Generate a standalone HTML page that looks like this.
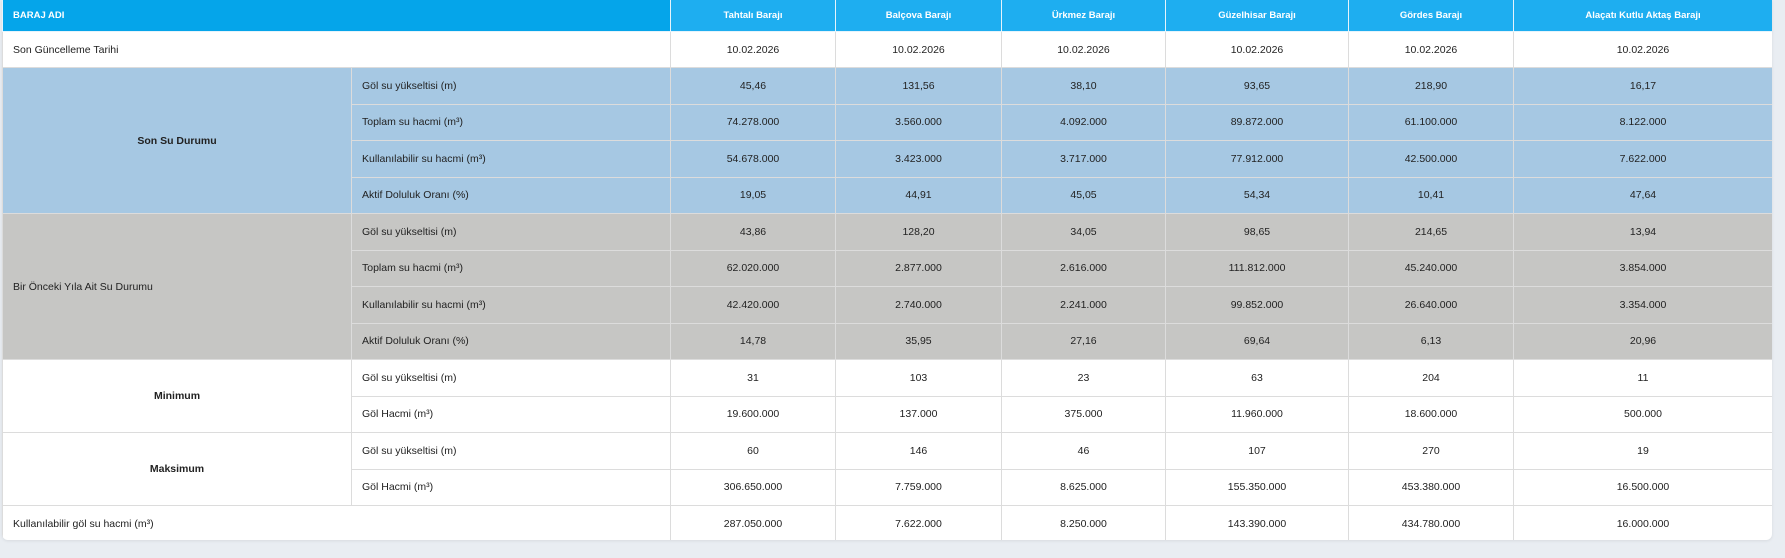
<!DOCTYPE html>
<html><head><meta charset="utf-8"><style>
html,body{margin:0;padding:0;background:#e9edf2;width:1785px;height:558px;overflow:hidden}
.wrap{position:absolute;left:2px;top:0;width:1770px;height:540px;background:#fff;border-radius:0 0 6px 6px;overflow:hidden;box-shadow:0 1px 3px rgba(0,0,0,.08)}
table{border-collapse:collapse;table-layout:fixed;width:1770px;font-family:"Liberation Sans",sans-serif;font-size:10.5px;color:#222}
td,th{border:1px solid #dcdcdc;padding:0;text-align:center;white-space:nowrap}
th{background:#1eaef0;color:#fff;font-weight:bold;font-size:9.5px;height:31px;border-color:#e6f4fc;border-top:none}
th.f{background:#05a5ea;text-align:left;padding-left:10px}
td.l{text-align:left;padding-left:10px}
tr.d td{height:35px}
tr td{height:35.5px}
.b td{background:#a6c8e3}
.g td{background:#c6c6c4}
td.h{font-weight:bold}
</style></head><body><div class="wrap"><table>
<colgroup><col style="width:349px"><col style="width:319px"><col style="width:165px"><col style="width:166px"><col style="width:164px"><col style="width:183px"><col style="width:165px"><col style="width:259px"></colgroup>
<tr><th class="f" colspan="2">BARAJ ADI</th><th>Tahtalı Barajı</th><th>Balçova Barajı</th><th>Ürkmez Barajı</th><th>Güzelhisar Barajı</th><th>Gördes Barajı</th><th>Alaçatı Kutlu Aktaş Barajı</th></tr>
<tr class="d"><td class="l" colspan="2">Son Güncelleme Tarihi</td><td>10.02.2026</td><td>10.02.2026</td><td>10.02.2026</td><td>10.02.2026</td><td>10.02.2026</td><td>10.02.2026</td></tr>
<tr class="b"><td class="h" rowspan="4">Son Su Durumu</td><td class="l">Göl su yükseltisi (m)</td><td>45,46</td><td>131,56</td><td>38,10</td><td>93,65</td><td>218,90</td><td>16,17</td></tr>
<tr class="b"><td class="l">Toplam su hacmi (m³)</td><td>74.278.000</td><td>3.560.000</td><td>4.092.000</td><td>89.872.000</td><td>61.100.000</td><td>8.122.000</td></tr>
<tr class="b"><td class="l">Kullanılabilir su hacmi (m³)</td><td>54.678.000</td><td>3.423.000</td><td>3.717.000</td><td>77.912.000</td><td>42.500.000</td><td>7.622.000</td></tr>
<tr class="b"><td class="l">Aktif Doluluk Oranı (%)</td><td>19,05</td><td>44,91</td><td>45,05</td><td>54,34</td><td>10,41</td><td>47,64</td></tr>
<tr class="g"><td class="l" rowspan="4">Bir Önceki Yıla Ait Su Durumu</td><td class="l">Göl su yükseltisi (m)</td><td>43,86</td><td>128,20</td><td>34,05</td><td>98,65</td><td>214,65</td><td>13,94</td></tr>
<tr class="g"><td class="l">Toplam su hacmi (m³)</td><td>62.020.000</td><td>2.877.000</td><td>2.616.000</td><td>111.812.000</td><td>45.240.000</td><td>3.854.000</td></tr>
<tr class="g"><td class="l">Kullanılabilir su hacmi (m³)</td><td>42.420.000</td><td>2.740.000</td><td>2.241.000</td><td>99.852.000</td><td>26.640.000</td><td>3.354.000</td></tr>
<tr class="g"><td class="l">Aktif Doluluk Oranı (%)</td><td>14,78</td><td>35,95</td><td>27,16</td><td>69,64</td><td>6,13</td><td>20,96</td></tr>
<tr><td class="h" rowspan="2">Minimum</td><td class="l">Göl su yükseltisi (m)</td><td>31</td><td>103</td><td>23</td><td>63</td><td>204</td><td>11</td></tr>
<tr><td class="l">Göl Hacmi (m³)</td><td>19.600.000</td><td>137.000</td><td>375.000</td><td>11.960.000</td><td>18.600.000</td><td>500.000</td></tr>
<tr><td class="h" rowspan="2">Maksimum</td><td class="l">Göl su yükseltisi (m)</td><td>60</td><td>146</td><td>46</td><td>107</td><td>270</td><td>19</td></tr>
<tr><td class="l">Göl Hacmi (m³)</td><td>306.650.000</td><td>7.759.000</td><td>8.625.000</td><td>155.350.000</td><td>453.380.000</td><td>16.500.000</td></tr>
<tr><td class="l" colspan="2">Kullanılabilir göl su hacmi (m³)</td><td>287.050.000</td><td>7.622.000</td><td>8.250.000</td><td>143.390.000</td><td>434.780.000</td><td>16.000.000</td></tr>
</table></div></body></html>
